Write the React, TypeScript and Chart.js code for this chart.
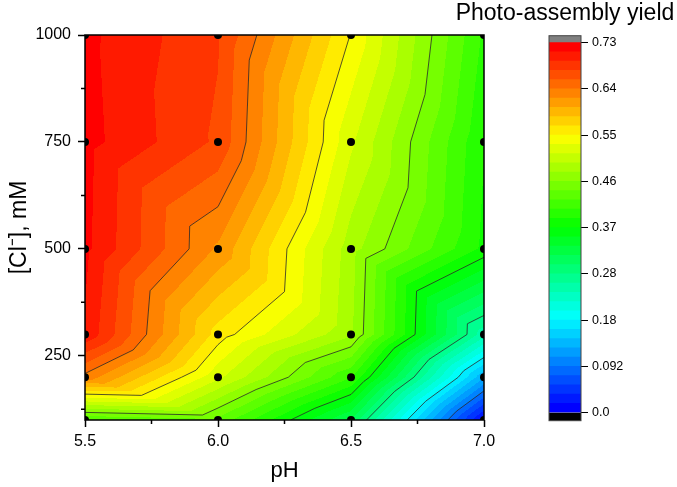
import React, { useEffect, useRef } from 'react';
import { Chart, registerables } from 'chart.js';

Chart.register(...registerables);

// ---- Data (yield measured on a pH x [Cl-] grid) ----
const pHValues = [5.5, 6.0, 6.5, 7.0];
const chlorideMM = [100, 200, 300, 500, 750, 1000];
// yield values per pH, in chlorideMM order (100 .. 1000 mM)
const yieldPH55 = [0.42, 0.635, 0.712, 0.72, 0.722, 0.72];
const yieldPH60 = [0.435, 0.518, 0.56, 0.62, 0.675, 0.68];
const yieldPH65 = [0.31, 0.405, 0.48, 0.485, 0.517, 0.549];
const yieldPH70 = [0.01, 0.13, 0.245, 0.38, 0.386, 0.4];
const yieldGrid = [yieldPH55, yieldPH60, yieldPH65, yieldPH70];

// ---- Axis ticks ----
const xTickValues = [5.5, 6.0, 6.5, 7.0];
const xTickLabels = ['5.5', '6.0', '6.5', '7.0'];
const xMinorTicks = [5.75, 6.25, 6.75];
const yTickValues = [250, 500, 750, 1000];
const yTickLabels = ['250', '500', '750', '1000'];
const yMinorTicks = [125, 375, 625, 875];

// ---- Colour scale ----
const levelMin = 0;
const levelMax = 0.7333;
const levelCount = 40;
const belowColor = '#000000';
const aboveColor = '#808080';
const colorbarMin = -0.0159;
const colorbarMax = 0.747;
const colorbarTickValues = [0, 0.0917, 0.1833, 0.275, 0.3667, 0.4583, 0.55, 0.6417, 0.7333];
const colorbarTickLabels = ['0.0', '0.092', '0.18', '0.28', '0.37', '0.46', '0.55', '0.64', '0.73'];
const contourLineLevels = [0.0917, 0.1833, 0.275, 0.3667, 0.4583, 0.55, 0.6417];
const paletteStops = [
  [0, 0, 255],
  [0, 255, 255],
  [0, 255, 0],
  [255, 255, 0],
  [255, 0, 0],
];

const FONT = '"Liberation Sans", Arial, Helvetica, sans-serif';

function paletteColor(t: number): number[] {
  const seg = Math.max(0, Math.min(1, t)) * (paletteStops.length - 1);
  const k = Math.min(paletteStops.length - 2, Math.floor(seg));
  const f = seg - k;
  const a = paletteStops[k];
  const b = paletteStops[k + 1];
  return [0, 1, 2].map((c) => Math.round(a[c] + (b[c] - a[c]) * f));
}

const levelStep = (levelMax - levelMin) / levelCount;
const bandColors: number[][] = Array.from({ length: levelCount }, (_, k) => paletteColor(k / (levelCount - 1)));

function rgbStr(c: number[]) {
  return `rgb(${c[0]},${c[1]},${c[2]})`;
}

function colorForValue(v: number): number[] {
  if (v < levelMin) return [0, 0, 0];
  if (v >= levelMax) return [128, 128, 128];
  const k = Math.min(levelCount - 1, Math.floor((v - levelMin) / levelStep));
  return bandColors[k];
}

function findCell(arr: number[], v: number) {
  let i = 0;
  while (i < arr.length - 2 && v > arr[i + 1]) i++;
  return i;
}

// Linear interpolation on triangles (each grid cell split along the
// (low pH, high Cl) - (high pH, low Cl) diagonal)
function interpYield(ph: number, cl: number) {
  const i = findCell(pHValues, ph);
  const j = findCell(chlorideMM, cl);
  const u = (ph - pHValues[i]) / (pHValues[i + 1] - pHValues[i]);
  const t = (cl - chlorideMM[j]) / (chlorideMM[j + 1] - chlorideMM[j]);
  const v00 = yieldGrid[i][j];
  const v10 = yieldGrid[i + 1][j];
  const v01 = yieldGrid[i][j + 1];
  const v11 = yieldGrid[i + 1][j + 1];
  if (u + t <= 1) return v00 + u * (v10 - v00) + t * (v01 - v00);
  return v11 + (1 - u) * (v01 - v11) + (1 - t) * (v10 - v11);
}

type Vtx = { x: number; y: number; v: number };

function triangles(): Vtx[][] {
  const tris: Vtx[][] = [];
  for (let i = 0; i < pHValues.length - 1; i++) {
    for (let j = 0; j < chlorideMM.length - 1; j++) {
      const bl = { x: pHValues[i], y: chlorideMM[j], v: yieldGrid[i][j] };
      const br = { x: pHValues[i + 1], y: chlorideMM[j], v: yieldGrid[i + 1][j] };
      const tl = { x: pHValues[i], y: chlorideMM[j + 1], v: yieldGrid[i][j + 1] };
      const tr = { x: pHValues[i + 1], y: chlorideMM[j + 1], v: yieldGrid[i + 1][j + 1] };
      tris.push([bl, br, tl]);
      tris.push([tr, tl, br]);
    }
  }
  return tris;
}

const contourPlugin = {
  id: 'contourFill',
  beforeDatasetsDraw(chart: any) {
    const { ctx, chartArea, scales } = chart;
    const xs = scales.x;
    const ys = scales.y;
    const left = Math.round(chartArea.left);
    const top = Math.round(chartArea.top);
    const w = Math.round(chartArea.right) - left;
    const h = Math.round(chartArea.bottom) - top;
    const off = document.createElement('canvas');
    off.width = w;
    off.height = h;
    const octx = off.getContext('2d')!;
    const img = octx.createImageData(w, h);
    for (let py = 0; py < h; py++) {
      const cl = ys.getValueForPixel(top + py + 0.5);
      for (let px = 0; px < w; px++) {
        const ph = xs.getValueForPixel(left + px + 0.5);
        const c = colorForValue(interpYield(ph, cl));
        const idx = (py * w + px) * 4;
        img.data[idx] = c[0];
        img.data[idx + 1] = c[1];
        img.data[idx + 2] = c[2];
        img.data[idx + 3] = 255;
      }
    }
    octx.putImageData(img, 0, 0);
    ctx.save();
    ctx.drawImage(off, left, top);

    // contour lines
    ctx.beginPath();
    ctx.rect(chartArea.left, chartArea.top, chartArea.right - chartArea.left, chartArea.bottom - chartArea.top);
    ctx.clip();
    ctx.strokeStyle = '#2a2a2a';
    ctx.lineWidth = 0.8;
    ctx.beginPath();
    for (const tri of triangles()) {
      for (const L of contourLineLevels) {
        const pts: number[][] = [];
        for (let e = 0; e < 3; e++) {
          const a = tri[e];
          const b = tri[(e + 1) % 3];
          if ((a.v - L) * (b.v - L) < 0) {
            const f = (L - a.v) / (b.v - a.v);
            pts.push([a.x + (b.x - a.x) * f, a.y + (b.y - a.y) * f]);
          }
        }
        if (pts.length === 2) {
          ctx.moveTo(xs.getPixelForValue(pts[0][0]), ys.getPixelForValue(pts[0][1]));
          ctx.lineTo(xs.getPixelForValue(pts[1][0]), ys.getPixelForValue(pts[1][1]));
        }
      }
    }
    ctx.stroke();
    ctx.restore();
  },
  afterDatasetsDraw(chart: any) {
    const { ctx, chartArea, scales } = chart;
    ctx.save();
    ctx.strokeStyle = '#000';
    ctx.lineWidth = 1.5;
    ctx.strokeRect(chartArea.left, chartArea.top, chartArea.right - chartArea.left, chartArea.bottom - chartArea.top);
    ctx.beginPath();
    for (const v of xMinorTicks) {
      const px = scales.x.getPixelForValue(v);
      ctx.moveTo(px, chartArea.bottom);
      ctx.lineTo(px, chartArea.bottom + 4);
    }
    for (const v of yMinorTicks) {
      const py = scales.y.getPixelForValue(v);
      ctx.moveTo(chartArea.left - 4, py);
      ctx.lineTo(chartArea.left, py);
    }
    ctx.stroke();
    ctx.restore();
  },
};

const colorbarOutline = {
  id: 'colorbarOutline',
  afterDatasetsDraw(chart: any) {
    const { ctx, chartArea } = chart;
    ctx.save();
    ctx.strokeStyle = '#444';
    ctx.lineWidth = 1;
    ctx.strokeRect(chartArea.left, chartArea.top, chartArea.right - chartArea.left, chartArea.bottom - chartArea.top);
    ctx.restore();
  },
};

export default function App() {
  const mainRef = useRef<HTMLCanvasElement | null>(null);
  const barRef = useRef<HTMLCanvasElement | null>(null);

  useEffect(() => {
    Chart.defaults.font.family = FONT;
    Chart.defaults.color = '#000';

    const points = pHValues.flatMap((ph) => chlorideMM.map((cl) => ({ x: ph, y: cl })));

    const main = new Chart(mainRef.current!, {
      type: 'scatter',
      data: {
        datasets: [
          {
            data: points,
            pointRadius: 4,
            pointHoverRadius: 4,
            pointBackgroundColor: '#000',
            pointBorderWidth: 0,
            clip: 0,
          } as any,
        ],
      },
      options: {
        animation: false,
        responsive: false,
        maintainAspectRatio: false,
        events: [],
        layout: { padding: { left: 0, top: 35, right: 193, bottom: 0 } },
        plugins: { legend: { display: false }, tooltip: { enabled: false } },
        scales: {
          x: {
            type: 'linear',
            min: 5.5,
            max: 7.0,
            afterFit: (s: any) => {
              s.height = 67;
            },
            afterBuildTicks: (s: any) => {
              s.ticks = xTickValues.map((v) => ({ value: v }));
            },
            ticks: {
              callback: (v: any) => xTickLabels[xTickValues.indexOf(Number(v))] ?? '',
              font: { size: 16, family: FONT },
              color: '#000',
              padding: 5,
              maxRotation: 0,
              autoSkip: false,
            },
            grid: { drawOnChartArea: false, drawTicks: true, tickLength: 7, tickColor: '#000', tickWidth: 1.5 },
            border: { display: false },
            title: { display: true, text: 'pH', font: { size: 22, family: FONT }, color: '#000', padding: { top: 0, bottom: 3 } },
          },
          y: {
            type: 'linear',
            min: 100,
            max: 1000,
            afterFit: (s: any) => {
              s.width = 85;
            },
            afterBuildTicks: (s: any) => {
              s.ticks = yTickValues.map((v) => ({ value: v }));
            },
            ticks: {
              callback: (v: any) => yTickLabels[yTickValues.indexOf(Number(v))] ?? '',
              font: { size: 16, family: FONT },
              color: '#000',
              padding: 7,
              autoSkip: false,
            },
            grid: { drawOnChartArea: false, drawTicks: true, tickLength: 7, tickColor: '#000', tickWidth: 1.5 },
            border: { display: false },
            title: { display: true, text: '[Cl\u207B], mM', font: { size: 23, family: FONT }, color: '#000', padding: { top: 6, bottom: 0 } },
          },
        },
      } as any,
      plugins: [contourPlugin],
    });

    const bandDatasets: any[] = [];
    bandDatasets.push({ data: [[colorbarMin, levelMin]], backgroundColor: belowColor, yAxisID: 'y', xAxisID: 'x' });
    for (let k = 0; k < levelCount; k++) {
      bandDatasets.push({
        data: [[levelMin + k * levelStep, levelMin + (k + 1) * levelStep]],
        backgroundColor: rgbStr(bandColors[k]),
        yAxisID: 'y',
        xAxisID: 'x',
      });
    }
    bandDatasets.push({ data: [[levelMax, colorbarMax]], backgroundColor: aboveColor, yAxisID: 'y', xAxisID: 'x' });

    const bar = new Chart(barRef.current!, {
      type: 'bar',
      data: { labels: [''], datasets: bandDatasets },
      options: {
        animation: false,
        responsive: false,
        maintainAspectRatio: false,
        events: [],
        layout: { padding: { left: 0, right: 0, top: 0, bottom: 66.3 } },
        datasets: { bar: { grouped: false, barPercentage: 1, categoryPercentage: 1, borderWidth: 0 } },
        plugins: {
          legend: { display: false },
          tooltip: { enabled: false },
          title: {
            display: true,
            text: 'Photo-assembly yield',
            font: { size: 23, family: FONT, weight: 'normal' },
            color: '#000',
            padding: { top: 0, bottom: 8.1 },
          },
        },
        scales: {
          x: { type: 'category', display: false },
          yl: {
            type: 'linear',
            position: 'left',
            display: true,
            min: colorbarMin,
            max: colorbarMax,
            afterFit: (s: any) => {
              s.width = 96;
            },
            ticks: { display: false },
            grid: { display: false },
            border: { display: false },
          },
          y: {
            type: 'linear',
            position: 'right',
            min: colorbarMin,
            max: colorbarMax,
            afterFit: (s: any) => {
              s.width = 96;
            },
            afterBuildTicks: (s: any) => {
              s.ticks = colorbarTickValues.map((v) => ({ value: v }));
            },
            ticks: {
              callback: (v: any) => colorbarTickLabels[colorbarTickValues.indexOf(Number(v))] ?? '',
              font: { size: 12.5, family: FONT },
              color: '#000',
              padding: 4,
              autoSkip: false,
            },
            grid: { drawOnChartArea: false, drawTicks: true, tickLength: 7, tickColor: '#000', tickWidth: 1 },
            border: { display: false },
          },
        },
      } as any,
      plugins: [colorbarOutline],
    });

    return () => {
      main.destroy();
      bar.destroy();
    };
  }, []);

  return (
    <div style={{ position: 'fixed', left: 0, top: 0, width: 677, height: 487, background: '#fff' }}>
      <canvas ref={mainRef} width={677} height={487} style={{ position: 'absolute', left: 0, top: 0 }} />
      <canvas ref={barRef} width={224} height={487} style={{ position: 'absolute', left: 453, top: 0 }} />
    </div>
  );
}
